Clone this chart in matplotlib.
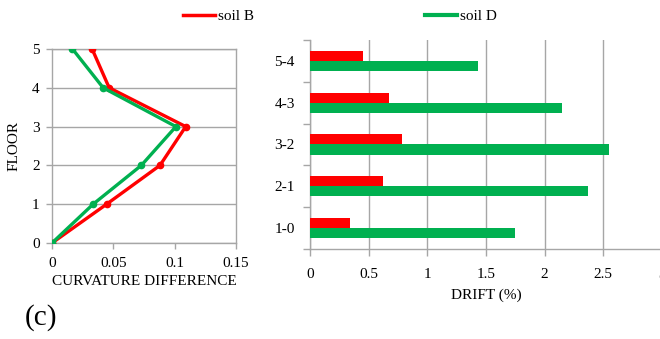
import matplotlib
matplotlib.use("Agg")
import matplotlib.pyplot as plt
from matplotlib.lines import Line2D
import numpy as np

plt.rcParams["font.family"] = ["Liberation Serif", "DejaVu Serif"]
plt.rcParams["font.size"] = 11

RED = "#ff0000"
GREEN = "#00b050"
GRID = "#a6a6a6"

# curvature difference per floor
floors = [0, 1, 2, 3, 4, 5]
curv_soil_b = [0.0, 0.0445, 0.088, 0.109, 0.0466, 0.0327]
curv_soil_d = [0.0, 0.0335, 0.0728, 0.101, 0.0417, 0.0167]

# inter-storey drift (%)
storeys = ["1-0", "2-1", "3-2", "4-3", "5-4"]
drift_soil_b = [0.345, 0.625, 0.78, 0.676, 0.45]
drift_soil_d = [1.75, 2.37, 2.545, 2.145, 1.43]

fig = plt.figure(figsize=(6.6, 3.39), dpi=100)

# left panel: curvature profile
ax1 = fig.add_axes([0.0788, 0.2832, 0.2788, 0.5723])
ax1.plot(curv_soil_b, floors, color=RED, lw=2.4, marker="o", ms=4.5, zorder=3)
ax1.plot(curv_soil_d, floors, color=GREEN, lw=2.4, marker="o", ms=4.5, zorder=4)
ax1.set_xlim(0, 0.15)
ax1.set_ylim(0, 5)
ax1.set_xticks([0, 0.05, 0.1, 0.15])
ax1.set_xticklabels(["0", "0.05", "0.1", "0.15"])
ax1.set_yticks(floors)
ax1.yaxis.grid(True, color=GRID, lw=1)
ax1.set_axisbelow(True)
for side in ["left", "bottom", "right", "top"]:
    ax1.spines[side].set_color(GRID)
    ax1.spines[side].set_linewidth(1)
ax1.tick_params(axis="both", color=GRID, length=4, width=1, pad=5)
ax1.tick_params(axis="x", pad=6)
ax1.set_xlabel("CURVATURE DIFFERENCE", labelpad=4)
ax1.set_ylabel("FLOOR", labelpad=8)

# right panel: drift bars
ax2 = fig.add_axes([0.4697, 0.2655, 0.5333, 0.6165])
pos = np.arange(len(storeys))
h = 0.24
ax2.barh(pos + h / 2, drift_soil_b, height=h, color=RED, zorder=3)
ax2.barh(pos - h / 2, drift_soil_d, height=h, color=GREEN, zorder=3)
ax2.set_xlim(0, 3)
ax2.set_ylim(-0.5, len(storeys) - 0.5)
ax2.set_xticks([0, 0.5, 1, 1.5, 2, 2.5, 3])
ax2.set_xticklabels(["0", "0.5", "1", "1.5", "2", "2.5", "3"])
ax2.set_yticks(np.arange(-0.5, len(storeys), 1.0))
ax2.set_yticklabels([])
ax2.set_yticks(pos, minor=True)
ax2.set_yticklabels(storeys, minor=True)
ax2.tick_params(axis="y", which="minor", length=0, pad=11)
ax2.tick_params(axis="y", which="major", color=GRID, length=5, width=1)
ax2.tick_params(axis="x", color=GRID, length=5, width=1, pad=9)
ax2.xaxis.grid(True, color=GRID, lw=1)
ax2.set_axisbelow(True)
ax2.spines["top"].set_visible(False)
ax2.spines["right"].set_visible(False)
for side in ["left", "bottom"]:
    ax2.spines[side].set_color(GRID)
    ax2.spines[side].set_linewidth(1)
ax2.set_xlabel("DRIFT (%)", labelpad=5)

handles = [Line2D([], [], color=RED, lw=2.5), Line2D([], [], color=GREEN, lw=3)]
fig.legend(handles, ["soil B", "soil D"], loc="center left",
           bbox_to_anchor=(183 / 660, 1 - 16 / 339), ncol=2, frameon=False,
           borderpad=0, borderaxespad=0, handlelength=2.1, handletextpad=0.2,
           columnspacing=11.2)

fig.text(25 / 660, 1 - 318 / 339, "(c)", fontsize=21, va="center", ha="left")

fig.savefig("out.png", dpi=100)
